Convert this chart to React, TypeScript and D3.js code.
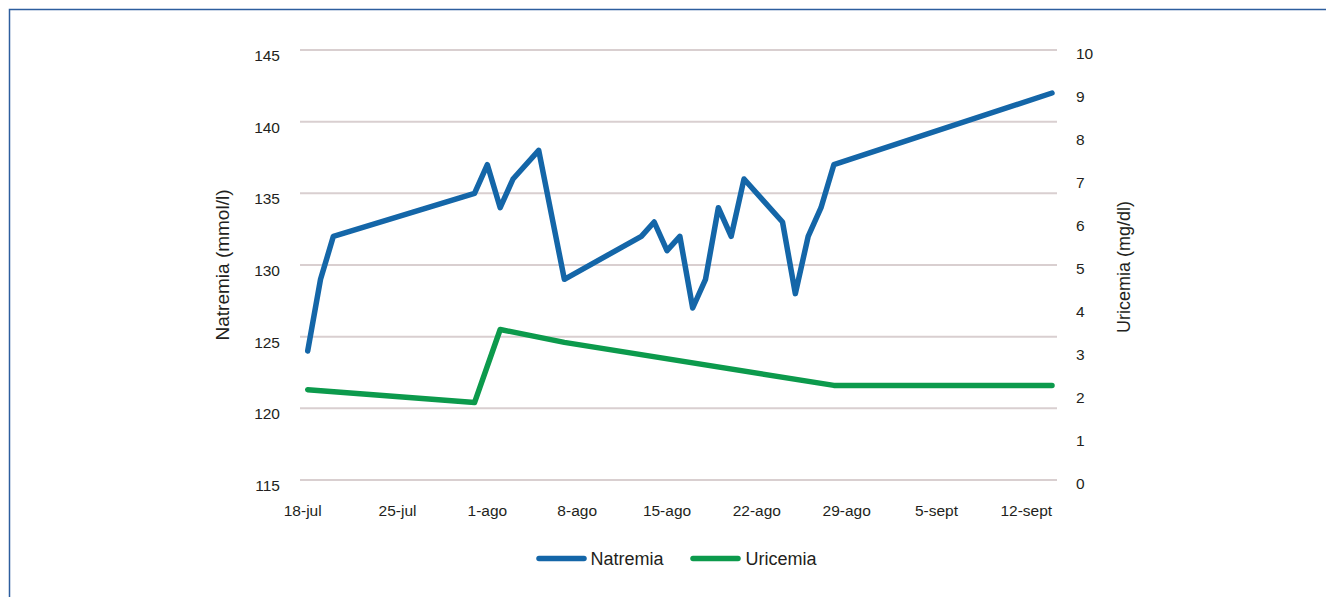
import React from "react";
import * as d3 from "d3";

const natremiaDates = ["2023-07-18","2023-07-19","2023-07-20","2023-07-31","2023-08-01","2023-08-02","2023-08-03","2023-08-05","2023-08-07","2023-08-13","2023-08-14","2023-08-15","2023-08-16","2023-08-17","2023-08-18","2023-08-19","2023-08-20","2023-08-21","2023-08-24","2023-08-25","2023-08-26","2023-08-27","2023-08-28","2023-09-14"];
const natremiaValues = [124,129,132,135,137,134,136,138,129,132,133,131,132,127,129,134,132,136,133,128,132,134,137,142];
const uricemiaDates = ["2023-07-18","2023-07-31","2023-08-02","2023-08-07","2023-08-28","2023-09-14"];
const uricemiaValues = [2.1,1.8,3.5,3.2,2.2,2.2];
const xTickDates = ["2023-07-18","2023-07-25","2023-08-01","2023-08-08","2023-08-15","2023-08-22","2023-08-29","2023-09-05","2023-09-12"];
const xTickLabels = ["18-jul","25-jul","1-ago","8-ago","15-ago","22-ago","29-ago","5-sept","12-sept"];
const leftTicks = [115,120,125,130,135,140,145];
const rightTicks = [0,1,2,3,4,5,6,7,8,9,10];

const parse = d3.utcParse("%Y-%m-%d");

export default function App() {
  const W = 1326, H = 597;
  const plotL = 300, plotR = 1057, top = 50, bottom = 480;
  const x = d3.scaleUtc()
    .domain([parse("2023-07-18")!, parse("2023-09-14")!])
    .range([307.7, 1052]);
  const yL = d3.scaleLinear().domain([115, 145]).range([bottom, top]);
  const yR = d3.scaleLinear().domain([0, 10]).range([bottom, top]);
  const font = "'Liberation Sans', Arial, Helvetica, sans-serif";
  const txt = "#231f20";

  const natPts = natremiaDates.map((d, i) => [x(parse(d)!), yL(natremiaValues[i])] as [number, number]);
  const uriPts = uricemiaDates.map((d, i) => [x(parse(d)!), yR(uricemiaValues[i])] as [number, number]);
  const line = d3.line();

  const blue = "#1466a8";
  const green = "#0c9a4c";

  return (
    <svg width={W} height={H} style={{ position: "absolute", left: 0, top: 0, background: "#fff" }} fontFamily={font}>
      <rect x={0} y={0} width={W} height={H} fill="#fff" />
      <path d={`M9.5,${H} L9.5,9.5 L${W},9.5`} fill="none" stroke="#2d5e9e" strokeWidth={1.5} />
      {leftTicks.map((t) => (
        <g key={"l" + t}>
          <line x1={plotL} x2={plotR} y1={yL(t)} y2={yL(t)} stroke="#d9cfd0" strokeWidth={2} />
          <text x={280} y={yL(t) + 11} textAnchor="end" fontSize={15.5} fill={txt}>{t}</text>
        </g>
      ))}
      {rightTicks.map((t) => (
        <text key={"r" + t} x={1076} y={yR(t) + 9} textAnchor="start" fontSize={15.5} fill={txt}>{t}</text>
      ))}
      {xTickDates.map((d, i) => (
        <text key={d} x={x(parse(d)!) - (i === 0 ? 5 : 0)} y={516} textAnchor="middle" fontSize={15.5} fill={txt}>{xTickLabels[i]}</text>
      ))}
      <text transform={`translate(229,265) rotate(-90)`} textAnchor="middle" fontSize={19} fill={txt}>Natremia (mmol/l)</text>
      <text transform={`translate(1130,267) rotate(-90)`} textAnchor="middle" fontSize={18} fill={txt}>Uricemia (mg/dl)</text>
      <path d={line(uriPts)!} fill="none" stroke={green} strokeWidth={5.5} strokeLinejoin="round" strokeLinecap="round" />
      <path d={line(natPts)!} fill="none" stroke={blue} strokeWidth={5.5} strokeLinejoin="round" strokeLinecap="round" />
      <line x1={539} x2={584} y1={558.5} y2={558.5} stroke={blue} strokeWidth={5.5} strokeLinecap="round" />
      <text x={590.5} y={565} fontSize={18} fill={txt}>Natremia</text>
      <line x1={693} x2={738} y1={558.5} y2={558.5} stroke={green} strokeWidth={5.5} strokeLinecap="round" />
      <text x={745.5} y={565} fontSize={18} fill={txt}>Uricemia</text>
    </svg>
  );
}
